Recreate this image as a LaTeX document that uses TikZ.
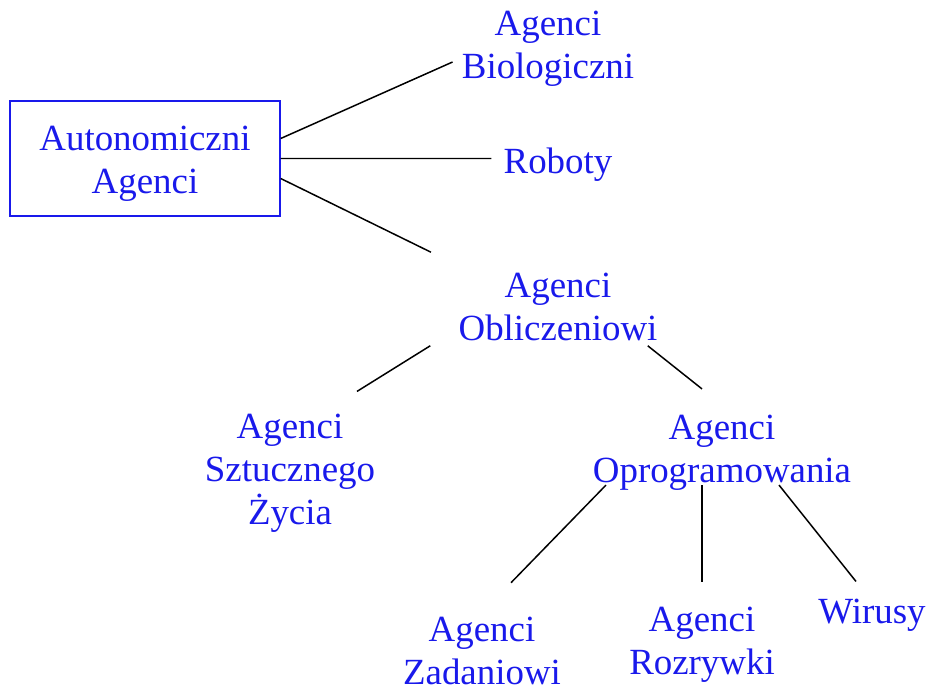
\documentclass[tikz,border=0pt]{standalone}
\usepackage{fontspec}
\setmainfont{Liberation Serif}
\usetikzlibrary{calc}
\definecolor{txtblue}{RGB}{25,25,235}
\tikzset{
  lbl/.style={text=txtblue, align=center, inner sep=0pt, font=\fontsize{21}{24.5}\selectfont},
  rootbox/.style={draw=txtblue, line width=0.85pt, minimum width=5.4cm, minimum height=2.3cm},
  edge/.style={line width=0.85pt}
}
\begin{document}
\begin{tikzpicture}[x=0.02cm,y=-0.02cm]
    \useasboundingbox (0,0) rectangle (930,689);

    % Wezly
    \node[rootbox] (auto) at (145,158.5) {};
    \node[lbl] (autolbl) at (145,164) {Autonomiczni\\Agenci};
    \node[lbl] (bio) at (548,49) {Agenci\\Biologiczni};
    \node[lbl] (rob) at (558,165) {Roboty};
    \node[lbl] (obl) at (558,306.5) {Agenci\\Obliczeniowi};
    \node[lbl] (szt) at (290,473) {Agenci\\Sztucznego\\Życia};
    \node[lbl] (opr) at (722,453) {Agenci\\Oprogramowania};
    \node[lbl] (zad) at (482,651) {Agenci\\Zadaniowi};
    \node[lbl] (roz) at (702,645) {Agenci\\Rozrywki};
    \node[lbl] (wir) at (872,615) {Wirusy};

    % Linie
    \draw[edge] ($(auto.east)+(0,-20)$) -- ($(bio.west)+(-9,13)$);
    \draw[edge] (auto.east) -- ($(rob.west)+(-12,-6.5)$);
    \draw[edge] ($(auto.east)+(0,20)$) -- ($(obl.north)+(-127,-20)$);
    \draw[edge] ($(obl.south west)+(-28,5)$) -- ($(szt.north)+(67,-22)$);
    \draw[edge] ($(obl.south east)+(-10,5)$) -- ($(opr.north)+(-20,-26)$);
    \draw[edge] ($(opr.south)+(-116,-6)$) -- ($(zad.north)+(29,-34)$);
    \draw[edge] ($(opr.south)+(-20,-6)$) -- ($(roz.north)+(0,-25)$);
    \draw[edge] ($(opr.south)+(57,-6)$) -- ($(wir.north)+(-16,-17)$);
\end{tikzpicture}
\end{document}
